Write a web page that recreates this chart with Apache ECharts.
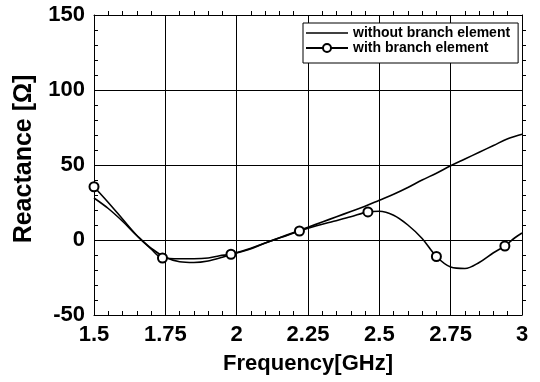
<!DOCTYPE html>
<html>
<head>
<meta charset="utf-8">
<script src="https://cdn.jsdelivr.net/npm/echarts@6/dist/echarts.min.js"></script>
<style>
  html, body { margin: 0; padding: 0; background: #fff; }
  #chart { width: 540px; height: 382px; }
</style>
</head>
<body>
<div id="chart"></div>
<script>
// Reactance vs. frequency, with and without the branch element
const freqWithout = [1.5, 1.55, 1.6, 1.65, 1.7, 1.75, 1.8, 1.85, 1.9, 1.95, 2.0, 2.05, 2.1, 2.15, 2.2, 2.25,
  2.3, 2.35, 2.4, 2.45, 2.5, 2.55, 2.6, 2.65, 2.7, 2.75, 2.8, 2.85, 2.9, 2.95, 3.0];
const reactWithout = [28, 21, 12.5, 3, -5.5, -11.5, -14.5, -15, -14, -11.5, -8.5, -5.5, -2, 1.5, 5, 8.5,
  12, 15.5, 19, 22.5, 26.5, 30.5, 35, 40, 44.5, 49.5, 54, 58.5, 63, 67.5, 70.5];

const freqWith = [1.5, 1.55, 1.6, 1.65, 1.7, 1.74, 1.8, 1.85, 1.9, 1.94, 1.98, 2.04, 2.1, 2.16, 2.22, 2.28,
  2.34, 2.4, 2.46, 2.5, 2.55, 2.6, 2.65, 2.7, 2.75, 2.8, 2.85, 2.9, 2.94, 2.975, 3.0];
const reactWith = [35.5, 25, 14, 3, -6, -12, -12.5, -12.5, -12, -10.5, -9.5, -6.5, -2, 2, 6, 9.5,
  12.5, 15.5, 18.75, 19.2, 16.5, 10, 1, -11, -18, -19, -15, -8.5, -4, 1.5, 4.7];

// frequencies that carry a circle marker on the "with branch element" curve
const markerFreq = [1.5, 1.74, 1.98, 2.22, 2.46, 2.7, 2.94];

const xTicks = { min: 1.5, max: 3, interval: 0.25 };
const yTicks = { min: -50, max: 150, interval: 50 };

const FONT = 'Liberation Sans, Arial, sans-serif';

const withoutData = freqWithout.map((f, i) => [f, reactWithout[i]]);
const withData = freqWith.map((f, i) => {
  const isMarker = markerFreq.some(m => Math.abs(m - f) < 1e-9);
  return isMarker ? { value: [f, reactWith[i]] } : { value: [f, reactWith[i]], symbol: 'none' };
});

const minor = { show: true, splitNumber: 5, length: 4, lineStyle: { color: '#000', width: 1 } };
const line = { show: true, onZero: false, lineStyle: { color: '#000', width: 1 } };

const chart = echarts.init(document.getElementById('chart'), null, { renderer: 'canvas' });
chart.setOption({
  backgroundColor: '#fff',
  animation: false,
  grid: { left: 94, right: 18, top: 15, bottom: 67, show: false },
  legend: {
    left: 303, top: 23,
    orient: 'vertical',
    padding: [3, 8, 8, 2],
    itemGap: 1,
    itemWidth: 42,
    itemHeight: 10,
    backgroundColor: '#fff',
    borderColor: '#000',
    borderWidth: 1,
    borderRadius: 0,
    textStyle: { fontFamily: FONT, fontWeight: 'bold', fontSize: 14, color: '#000', lineHeight: 14 },
    data: [
      // plain line key for the unmarked curve
      { name: 'without branch element', icon: 'path://M0,0H42V1.6H0Z' },
      'with branch element'
    ]
  },
  xAxis: [{
    type: 'value', position: 'bottom',
    min: xTicks.min, max: xTicks.max, interval: xTicks.interval,
    name: 'Frequency[GHz]', nameLocation: 'middle', nameGap: 38,
    nameTextStyle: { fontFamily: FONT, fontWeight: 'bold', fontSize: 22, color: '#000' },
    axisLine: line,
    axisTick: { show: true, inside: true, length: 4, lineStyle: { color: '#000' } },
    minorTick: minor,
    axisLabel: { fontFamily: FONT, fontWeight: 'bold', fontSize: 22, color: '#000', margin: 9 },
    splitLine: { show: true, lineStyle: { color: '#000', width: 1 } }
  }, {
    type: 'value', position: 'top',
    min: xTicks.min, max: xTicks.max, interval: xTicks.interval,
    axisLine: line,
    axisTick: { show: false },
    minorTick: minor,
    axisLabel: { show: false },
    splitLine: { show: false }
  }],
  yAxis: [{
    type: 'value', position: 'left',
    min: yTicks.min, max: yTicks.max, interval: yTicks.interval,
    name: 'Reactance [Ω]', nameLocation: 'middle', nameGap: 57,
    nameTextStyle: { fontFamily: FONT, fontWeight: 'bold', fontSize: 25, color: '#000', padding: [0, 0, 0, 12] },
    axisLine: line,
    axisTick: { show: true, inside: true, length: 4, lineStyle: { color: '#000' } },
    minorTick: minor,
    axisLabel: { fontFamily: FONT, fontWeight: 'bold', fontSize: 22, color: '#000', margin: 9 },
    splitLine: { show: true, lineStyle: { color: '#000', width: 1 } }
  }, {
    type: 'value', position: 'right',
    min: yTicks.min, max: yTicks.max, interval: yTicks.interval,
    axisLine: line,
    axisTick: { show: false },
    minorTick: minor,
    axisLabel: { show: false },
    splitLine: { show: false }
  }],
  series: [{
    name: 'without branch element',
    type: 'line',
    xAxisIndex: 0, yAxisIndex: 0,
    data: withoutData,
    smooth: 0.35,
    symbol: 'none',
    lineStyle: { color: '#000', width: 1.6 },
    itemStyle: { color: '#000' }
  }, {
    name: 'with branch element',
    type: 'line',
    xAxisIndex: 0, yAxisIndex: 0,
    data: withData,
    smooth: 0.35,
    symbol: 'emptyCircle',
    symbolSize: 9,
    showSymbol: true,
    lineStyle: { color: '#000', width: 1.6 },
    itemStyle: { color: '#000', borderColor: '#000', borderWidth: 1.6 },
    z: 3
  }]
});
</script>
</body>
</html>
